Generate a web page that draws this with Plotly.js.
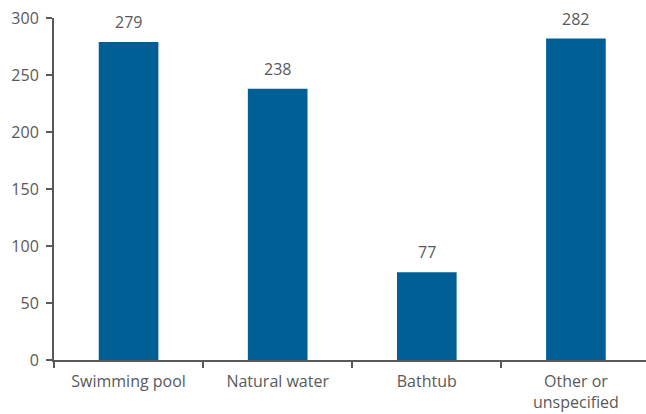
<!DOCTYPE html>
<html>
<head>
<meta charset="utf-8">
<script src="https://cdn.plot.ly/plotly-3.0.1.min.js"></script>
<style>html,body{margin:0;padding:0;background:#fff;}#chart{width:646px;height:414px;}</style>
</head>
<body>
<div id="chart"></div>
<script>
const categories = ["Swimming pool", "Natural water", "Bathtub", "Other or<br>unspecified"];
const values = [279, 238, 77, 282];
const yTicks = [0, 50, 100, 150, 200, 250, 300];

const textColor = "#595959";
const font = {family: "Open Sans, Liberation Sans, sans-serif", size: 16, color: textColor};

const trace = {
  type: "bar",
  x: categories,
  y: values,
  marker: {color: "#006096"},
  width: 0.4,
  hoverinfo: "none"
};

const annotations = values.map((v, i) => ({
  x: categories[i], y: v, text: String(v),
  showarrow: false, yanchor: "bottom", yshift: 7,
  font: font
}));

const layout = {
  width: 646, height: 414,
  margin: {l: 54, r: 0, t: 18, b: 54},
  paper_bgcolor: "#fff", plot_bgcolor: "#fff",
  showlegend: false,
  font: font,
  xaxis: {
    range: [-0.5, 3.47],
    showline: true, linecolor: textColor, linewidth: 2,
    ticks: "outside", tickson: "boundaries", ticklen: 6, tickwidth: 2, tickcolor: textColor,
    ticklabelstandoff: 6,
    showgrid: false, zeroline: false, fixedrange: true,
    tickfont: font
  },
  yaxis: {
    range: [0, 300],
    tickvals: yTicks,
    showline: true, linecolor: textColor, linewidth: 2,
    ticks: "outside", ticklen: 6, tickwidth: 2, tickcolor: textColor,
    ticklabelstandoff: 4,
    showgrid: false, zeroline: false, fixedrange: true,
    tickfont: font
  },
  annotations: annotations
};

Plotly.newPlot("chart", [trace], layout, {displayModeBar: false, staticPlot: true});
</script>
</body>
</html>
